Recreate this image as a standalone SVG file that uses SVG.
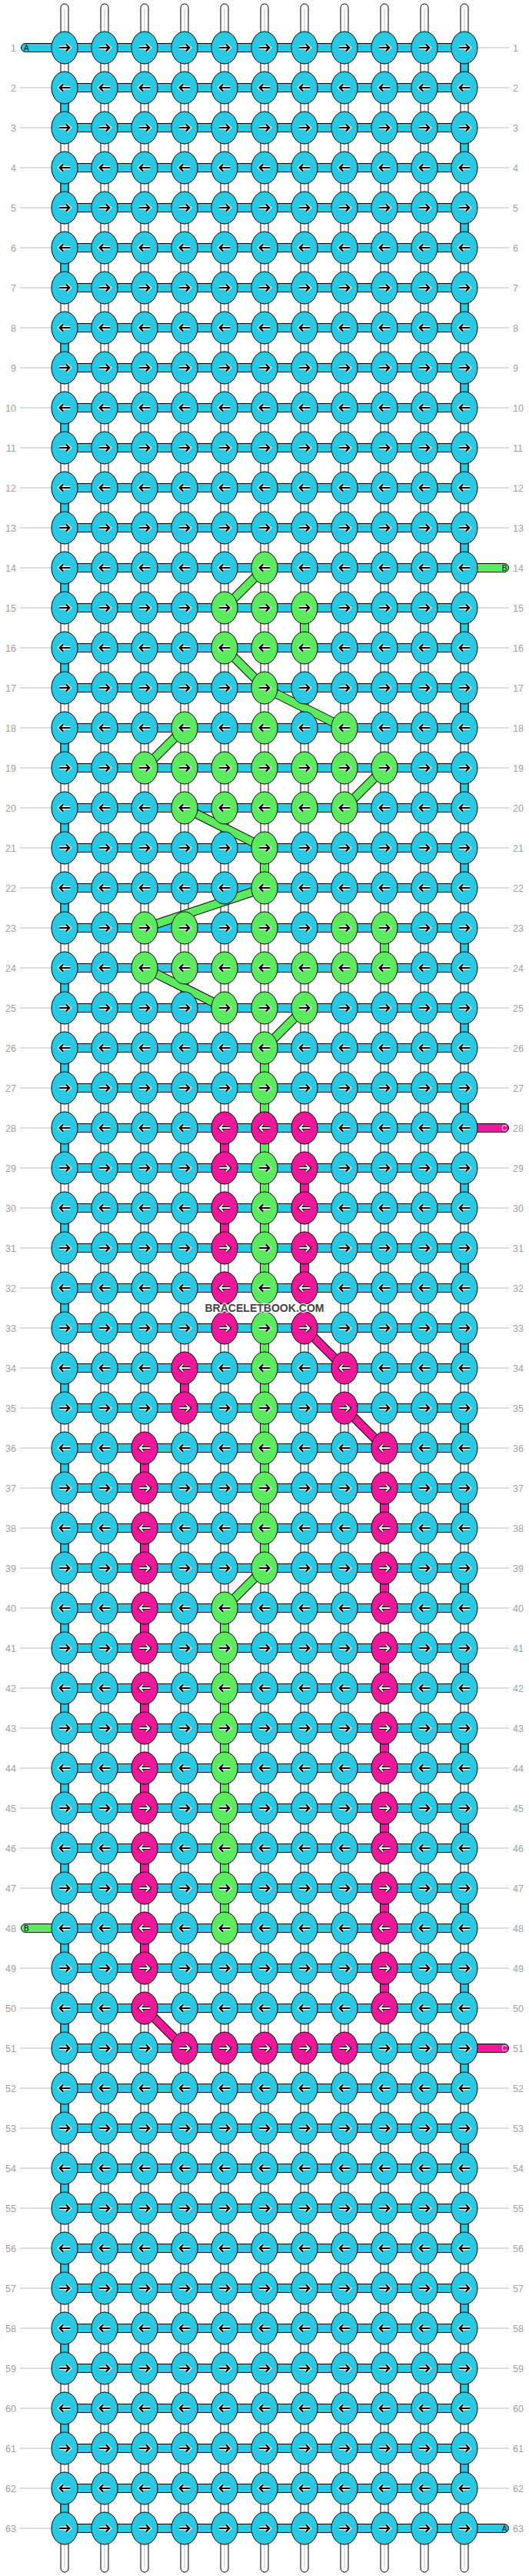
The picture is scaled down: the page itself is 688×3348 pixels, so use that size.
<svg xmlns="http://www.w3.org/2000/svg" width="688" height="3348" viewBox="0 0 688 3348">
<style>
text{font-family:"Liberation Sans",Arial,sans-serif}
.ll{font-size:12.5px;fill:#a0a0a0;text-anchor:end}
.rl{font-size:12.5px;fill:#a0a0a0}
.sl{font-size:10px;fill:#000}
.slw{font-size:10px;fill:#fff}
.wo{fill:none;stroke:#fff;stroke-width:4.6}
.bi{fill:none;stroke:#000;stroke-width:2.2}
.bo{fill:none;stroke:#000;stroke-width:4.2}
.wi{fill:none;stroke:#fff;stroke-width:2}
.c{fill:#29C8E3}
.g{fill:#5CEB5F}
.p{fill:#F1179A}
.ol{stroke:#000;stroke-width:1}
</style>
<defs>
<path id="a" d="M-7,0H6M1.8,-4.6L6.4,0L1.8,4.6"/>
<g id="cR"><ellipse rx="17" ry="21" class="c ol"/><use href="#a" class="wo"/><use href="#a" class="bi"/></g>
<g id="cL"><ellipse rx="17" ry="21" class="c ol"/><g transform="scale(-1,1)"><use href="#a" class="wo"/><use href="#a" class="bi"/></g></g>
<g id="gR"><ellipse rx="17" ry="21" class="g ol"/><use href="#a" class="wo"/><use href="#a" class="bi"/></g>
<g id="gL"><ellipse rx="17" ry="21" class="g ol"/><g transform="scale(-1,1)"><use href="#a" class="wo"/><use href="#a" class="bi"/></g></g>
<g id="pR"><ellipse rx="17" ry="21" class="p ol"/><use href="#a" class="bo"/><use href="#a" class="wi"/></g>
<g id="pL"><ellipse rx="17" ry="21" class="p ol"/><g transform="scale(-1,1)"><use href="#a" class="bo"/><use href="#a" class="wi"/></g></g>
<g id="greenLinks">
<line x1="344" y1="738" x2="292" y2="790"/>
<line x1="396" y1="790" x2="396" y2="842"/>
<line x1="292" y1="842" x2="344" y2="894"/>
<line x1="344" y1="894" x2="448" y2="946"/>
<line x1="240" y1="946" x2="188" y2="998"/>
<line x1="500" y1="998" x2="448" y2="1050"/>
<line x1="240" y1="1050" x2="344" y2="1102"/>
<line x1="344" y1="1102" x2="344" y2="1154"/>
<line x1="344" y1="1154" x2="188" y2="1206"/>
<line x1="500" y1="1206" x2="500" y2="1258"/>
<line x1="188" y1="1258" x2="292" y2="1310"/>
<line x1="396" y1="1310" x2="344" y2="1362"/>
<line x1="344" y1="1362" x2="344" y2="2038"/>
<line x1="344" y1="2038" x2="292" y2="2090"/>
<line x1="292" y1="2090" x2="292" y2="2506"/>
</g>
<g id="pinkLinks">
<line x1="292" y1="1466" x2="292" y2="1726" stroke-dasharray="52 52"/>
<line x1="396" y1="1518" x2="396" y2="1674" stroke-dasharray="52 52"/>
<line x1="396" y1="1726" x2="448" y2="1778"/>
<line x1="240" y1="1778" x2="240" y2="1830"/>
<line x1="448" y1="1830" x2="500" y2="1882"/>
<line x1="188" y1="1882" x2="188" y2="2558" stroke-dasharray="52 52"/>
<line x1="500" y1="1934" x2="500" y2="2610" stroke-dasharray="52 52"/>
<line x1="188" y1="2610" x2="240" y2="2662"/>
</g>
</defs>
<rect width="688" height="3348" fill="#fff"/>
<g id="threads" fill="#fff" stroke="#000" stroke-width="1">
<rect x="79" y="5" width="10" height="3338" rx="5"/>
<rect x="131" y="5" width="10" height="3338" rx="5"/>
<rect x="183" y="5" width="10" height="3338" rx="5"/>
<rect x="235" y="5" width="10" height="3338" rx="5"/>
<rect x="287" y="5" width="10" height="3338" rx="5"/>
<rect x="339" y="5" width="10" height="3338" rx="5"/>
<rect x="391" y="5" width="10" height="3338" rx="5"/>
<rect x="443" y="5" width="10" height="3338" rx="5"/>
<rect x="495" y="5" width="10" height="3338" rx="5"/>
<rect x="547" y="5" width="10" height="3338" rx="5"/>
<rect x="599" y="5" width="10" height="3338" rx="5"/>
<path stroke="#c4c4c4" d="M84,11V3337M136,11V3337M188,11V3337M240,11V3337M292,11V3337M344,11V3337M396,11V3337M448,11V3337M500,11V3337M552,11V3337M604,11V3337"/>
</g>
<g id="connectors">
<path class="c ol" d="M84,56.5h520v11H84zM84,108.5h520v11H84zM84,160.5h520v11H84zM84,212.5h520v11H84zM84,264.5h520v11H84zM84,316.5h520v11H84zM84,368.5h520v11H84zM84,420.5h520v11H84zM84,472.5h520v11H84zM84,524.5h520v11H84zM84,576.5h520v11H84zM84,628.5h520v11H84zM84,680.5h520v11H84zM84,732.5h520v11H84zM84,784.5h520v11H84zM84,836.5h520v11H84zM84,888.5h520v11H84zM84,940.5h520v11H84zM84,992.5h520v11H84zM84,1044.5h520v11H84zM84,1096.5h520v11H84zM84,1148.5h520v11H84zM84,1200.5h520v11H84zM84,1252.5h520v11H84zM84,1304.5h520v11H84zM84,1356.5h520v11H84zM84,1408.5h520v11H84zM84,1460.5h520v11H84zM84,1512.5h520v11H84zM84,1564.5h520v11H84zM84,1616.5h520v11H84zM84,1668.5h520v11H84zM84,1720.5h520v11H84zM84,1772.5h520v11H84zM84,1824.5h520v11H84zM84,1876.5h520v11H84zM84,1928.5h520v11H84zM84,1980.5h520v11H84zM84,2032.5h520v11H84zM84,2084.5h520v11H84zM84,2136.5h520v11H84zM84,2188.5h520v11H84zM84,2240.5h520v11H84zM84,2292.5h520v11H84zM84,2344.5h520v11H84zM84,2396.5h520v11H84zM84,2448.5h520v11H84zM84,2500.5h520v11H84zM84,2552.5h520v11H84zM84,2604.5h520v11H84zM84,2656.5h520v11H84zM84,2708.5h520v11H84zM84,2760.5h520v11H84zM84,2812.5h520v11H84zM84,2864.5h520v11H84zM84,2916.5h520v11H84zM84,2968.5h520v11H84zM84,3020.5h520v11H84zM84,3072.5h520v11H84zM84,3124.5h520v11H84zM84,3176.5h520v11H84zM84,3228.5h520v11H84zM84,3280.5h520v11H84z"/>
<line x1="604" y1="62" x2="604" y2="3286" stroke="#000" stroke-width="11" stroke-dasharray="52 52"/>
<line x1="604" y1="62" x2="604" y2="3286" stroke="#29C8E3" stroke-width="9" stroke-dasharray="52 52"/>
<line x1="84" y1="114" x2="84" y2="3286" stroke="#000" stroke-width="11" stroke-dasharray="52 52"/>
<line x1="84" y1="114" x2="84" y2="3286" stroke="#29C8E3" stroke-width="9" stroke-dasharray="52 52"/>
<use href="#greenLinks" stroke="#000" stroke-width="12"/>
<use href="#greenLinks" stroke="#5CEB5F" stroke-width="10"/>
<use href="#pinkLinks" stroke="#000" stroke-width="12"/>
<use href="#pinkLinks" stroke="#F1179A" stroke-width="10"/>
<rect x="266" y="1695.5" width="156" height="9.5" fill="#fff"/>
</g>
<g id="rowlines" stroke="#bdbdbd" stroke-width="1">
<path d="M26,114H67M26,166H67M26,218H67M26,270H67M26,322H67M26,374H67M26,426H67M26,478H67M26,530H67M26,582H67M26,634H67M26,686H67M26,738H67M26,790H67M26,842H67M26,894H67M26,946H67M26,998H67M26,1050H67M26,1102H67M26,1154H67M26,1206H67M26,1258H67M26,1310H67M26,1362H67M26,1414H67M26,1466H67M26,1518H67M26,1570H67M26,1622H67M26,1674H67M26,1726H67M26,1778H67M26,1830H67M26,1882H67M26,1934H67M26,1986H67M26,2038H67M26,2090H67M26,2142H67M26,2194H67M26,2246H67M26,2298H67M26,2350H67M26,2402H67M26,2454H67M26,2558H67M26,2610H67M26,2662H67M26,2714H67M26,2766H67M26,2818H67M26,2870H67M26,2922H67M26,2974H67M26,3026H67M26,3078H67M26,3130H67M26,3182H67M26,3234H67M26,3286H67"/>
<path d="M621,62H662M621,114H662M621,166H662M621,218H662M621,270H662M621,322H662M621,374H662M621,426H662M621,478H662M621,530H662M621,582H662M621,634H662M621,686H662M621,790H662M621,842H662M621,894H662M621,946H662M621,998H662M621,1050H662M621,1102H662M621,1154H662M621,1206H662M621,1258H662M621,1310H662M621,1362H662M621,1414H662M621,1518H662M621,1570H662M621,1622H662M621,1674H662M621,1726H662M621,1778H662M621,1830H662M621,1882H662M621,1934H662M621,1986H662M621,2038H662M621,2090H662M621,2142H662M621,2194H662M621,2246H662M621,2298H662M621,2350H662M621,2402H662M621,2454H662M621,2506H662M621,2558H662M621,2610H662M621,2714H662M621,2766H662M621,2818H662M621,2870H662M621,2922H662M621,2974H662M621,3026H662M621,3078H662M621,3130H662M621,3182H662M621,3234H662"/>
</g>
<g id="rowlabels">
<text class="ll" x="21" y="66.5">1</text><text class="ll" x="21" y="118.5">2</text><text class="ll" x="21" y="170.5">3</text><text class="ll" x="21" y="222.5">4</text><text class="ll" x="21" y="274.5">5</text><text class="ll" x="21" y="326.5">6</text><text class="ll" x="21" y="378.5">7</text><text class="ll" x="21" y="430.5">8</text><text class="ll" x="21" y="482.5">9</text><text class="ll" x="21" y="534.5">10</text><text class="ll" x="21" y="586.5">11</text><text class="ll" x="21" y="638.5">12</text><text class="ll" x="21" y="690.5">13</text><text class="ll" x="21" y="742.5">14</text><text class="ll" x="21" y="794.5">15</text><text class="ll" x="21" y="846.5">16</text><text class="ll" x="21" y="898.5">17</text><text class="ll" x="21" y="950.5">18</text><text class="ll" x="21" y="1002.5">19</text><text class="ll" x="21" y="1054.5">20</text><text class="ll" x="21" y="1106.5">21</text><text class="ll" x="21" y="1158.5">22</text><text class="ll" x="21" y="1210.5">23</text><text class="ll" x="21" y="1262.5">24</text><text class="ll" x="21" y="1314.5">25</text><text class="ll" x="21" y="1366.5">26</text><text class="ll" x="21" y="1418.5">27</text><text class="ll" x="21" y="1470.5">28</text><text class="ll" x="21" y="1522.5">29</text><text class="ll" x="21" y="1574.5">30</text><text class="ll" x="21" y="1626.5">31</text><text class="ll" x="21" y="1678.5">32</text><text class="ll" x="21" y="1730.5">33</text><text class="ll" x="21" y="1782.5">34</text><text class="ll" x="21" y="1834.5">35</text><text class="ll" x="21" y="1886.5">36</text><text class="ll" x="21" y="1938.5">37</text><text class="ll" x="21" y="1990.5">38</text><text class="ll" x="21" y="2042.5">39</text><text class="ll" x="21" y="2094.5">40</text><text class="ll" x="21" y="2146.5">41</text><text class="ll" x="21" y="2198.5">42</text><text class="ll" x="21" y="2250.5">43</text><text class="ll" x="21" y="2302.5">44</text><text class="ll" x="21" y="2354.5">45</text><text class="ll" x="21" y="2406.5">46</text><text class="ll" x="21" y="2458.5">47</text><text class="ll" x="21" y="2510.5">48</text><text class="ll" x="21" y="2562.5">49</text><text class="ll" x="21" y="2614.5">50</text><text class="ll" x="21" y="2666.5">51</text><text class="ll" x="21" y="2718.5">52</text><text class="ll" x="21" y="2770.5">53</text><text class="ll" x="21" y="2822.5">54</text><text class="ll" x="21" y="2874.5">55</text><text class="ll" x="21" y="2926.5">56</text><text class="ll" x="21" y="2978.5">57</text><text class="ll" x="21" y="3030.5">58</text><text class="ll" x="21" y="3082.5">59</text><text class="ll" x="21" y="3134.5">60</text><text class="ll" x="21" y="3186.5">61</text><text class="ll" x="21" y="3238.5">62</text><text class="ll" x="21" y="3290.5">63</text>
<text class="rl" x="667" y="66.5">1</text><text class="rl" x="667" y="118.5">2</text><text class="rl" x="667" y="170.5">3</text><text class="rl" x="667" y="222.5">4</text><text class="rl" x="667" y="274.5">5</text><text class="rl" x="667" y="326.5">6</text><text class="rl" x="667" y="378.5">7</text><text class="rl" x="667" y="430.5">8</text><text class="rl" x="667" y="482.5">9</text><text class="rl" x="667" y="534.5">10</text><text class="rl" x="667" y="586.5">11</text><text class="rl" x="667" y="638.5">12</text><text class="rl" x="667" y="690.5">13</text><text class="rl" x="667" y="742.5">14</text><text class="rl" x="667" y="794.5">15</text><text class="rl" x="667" y="846.5">16</text><text class="rl" x="667" y="898.5">17</text><text class="rl" x="667" y="950.5">18</text><text class="rl" x="667" y="1002.5">19</text><text class="rl" x="667" y="1054.5">20</text><text class="rl" x="667" y="1106.5">21</text><text class="rl" x="667" y="1158.5">22</text><text class="rl" x="667" y="1210.5">23</text><text class="rl" x="667" y="1262.5">24</text><text class="rl" x="667" y="1314.5">25</text><text class="rl" x="667" y="1366.5">26</text><text class="rl" x="667" y="1418.5">27</text><text class="rl" x="667" y="1470.5">28</text><text class="rl" x="667" y="1522.5">29</text><text class="rl" x="667" y="1574.5">30</text><text class="rl" x="667" y="1626.5">31</text><text class="rl" x="667" y="1678.5">32</text><text class="rl" x="667" y="1730.5">33</text><text class="rl" x="667" y="1782.5">34</text><text class="rl" x="667" y="1834.5">35</text><text class="rl" x="667" y="1886.5">36</text><text class="rl" x="667" y="1938.5">37</text><text class="rl" x="667" y="1990.5">38</text><text class="rl" x="667" y="2042.5">39</text><text class="rl" x="667" y="2094.5">40</text><text class="rl" x="667" y="2146.5">41</text><text class="rl" x="667" y="2198.5">42</text><text class="rl" x="667" y="2250.5">43</text><text class="rl" x="667" y="2302.5">44</text><text class="rl" x="667" y="2354.5">45</text><text class="rl" x="667" y="2406.5">46</text><text class="rl" x="667" y="2458.5">47</text><text class="rl" x="667" y="2510.5">48</text><text class="rl" x="667" y="2562.5">49</text><text class="rl" x="667" y="2614.5">50</text><text class="rl" x="667" y="2666.5">51</text><text class="rl" x="667" y="2718.5">52</text><text class="rl" x="667" y="2770.5">53</text><text class="rl" x="667" y="2822.5">54</text><text class="rl" x="667" y="2874.5">55</text><text class="rl" x="667" y="2926.5">56</text><text class="rl" x="667" y="2978.5">57</text><text class="rl" x="667" y="3030.5">58</text><text class="rl" x="667" y="3082.5">59</text><text class="rl" x="667" y="3134.5">60</text><text class="rl" x="667" y="3186.5">61</text><text class="rl" x="667" y="3238.5">62</text><text class="rl" x="667" y="3290.5">63</text>
</g>
<g id="stubs" stroke="#000" stroke-width="1">
<g id="stubA1"><path class="c" d="M84,56.5H33a5.5,5.5 0 0 0 0,11H84z"/><text class="sl" x="31" y="65.5" stroke="none">A</text></g>
<g id="stubB14"><path class="g" d="M604,732.5H656a5.5,5.5 0 0 1 0,11H604z"/><text class="sl" x="659.5" y="741.5" stroke="none" text-anchor="end">B</text></g>
<g id="stubC28"><path class="p" d="M604,1460.5H656a5.5,5.5 0 0 1 0,11H604z"/><text class="slw" x="659.5" y="1469.5" stroke="none" text-anchor="end">C</text></g>
<g id="stubB48"><path class="g" d="M84,2500.5H33a5.5,5.5 0 0 0 0,11H84z"/><text class="sl" x="31" y="2509.5" stroke="none">B</text></g>
<g id="stubC51"><path class="p" d="M604,2656.5H656a5.5,5.5 0 0 1 0,11H604z"/><text class="slw" x="659.5" y="2665.5" stroke="none" text-anchor="end">C</text></g>
<g id="stubA63"><path class="c" d="M604,3280.5H656a5.5,5.5 0 0 1 0,11H604z"/><text class="sl" x="659.5" y="3289.5" stroke="none" text-anchor="end">A</text></g>
</g>
<g id="nodes">
<g id="r1" transform="translate(0,62)"><g id="n1-1"><use href="#cR" x="84"/></g><g id="n1-2"><use href="#cR" x="136"/></g><g id="n1-3"><use href="#cR" x="188"/></g><g id="n1-4"><use href="#cR" x="240"/></g><g id="n1-5"><use href="#cR" x="292"/></g><g id="n1-6"><use href="#cR" x="344"/></g><g id="n1-7"><use href="#cR" x="396"/></g><g id="n1-8"><use href="#cR" x="448"/></g><g id="n1-9"><use href="#cR" x="500"/></g><g id="n1-10"><use href="#cR" x="552"/></g><g id="n1-11"><use href="#cR" x="604"/></g></g>
<g id="r2" transform="translate(0,114)"><g id="n2-1"><use href="#cL" x="84"/></g><g id="n2-2"><use href="#cL" x="136"/></g><g id="n2-3"><use href="#cL" x="188"/></g><g id="n2-4"><use href="#cL" x="240"/></g><g id="n2-5"><use href="#cL" x="292"/></g><g id="n2-6"><use href="#cL" x="344"/></g><g id="n2-7"><use href="#cL" x="396"/></g><g id="n2-8"><use href="#cL" x="448"/></g><g id="n2-9"><use href="#cL" x="500"/></g><g id="n2-10"><use href="#cL" x="552"/></g><g id="n2-11"><use href="#cL" x="604"/></g></g>
<g id="r3" transform="translate(0,166)"><g id="n3-1"><use href="#cR" x="84"/></g><g id="n3-2"><use href="#cR" x="136"/></g><g id="n3-3"><use href="#cR" x="188"/></g><g id="n3-4"><use href="#cR" x="240"/></g><g id="n3-5"><use href="#cR" x="292"/></g><g id="n3-6"><use href="#cR" x="344"/></g><g id="n3-7"><use href="#cR" x="396"/></g><g id="n3-8"><use href="#cR" x="448"/></g><g id="n3-9"><use href="#cR" x="500"/></g><g id="n3-10"><use href="#cR" x="552"/></g><g id="n3-11"><use href="#cR" x="604"/></g></g>
<g id="r4" transform="translate(0,218)"><g id="n4-1"><use href="#cL" x="84"/></g><g id="n4-2"><use href="#cL" x="136"/></g><g id="n4-3"><use href="#cL" x="188"/></g><g id="n4-4"><use href="#cL" x="240"/></g><g id="n4-5"><use href="#cL" x="292"/></g><g id="n4-6"><use href="#cL" x="344"/></g><g id="n4-7"><use href="#cL" x="396"/></g><g id="n4-8"><use href="#cL" x="448"/></g><g id="n4-9"><use href="#cL" x="500"/></g><g id="n4-10"><use href="#cL" x="552"/></g><g id="n4-11"><use href="#cL" x="604"/></g></g>
<g id="r5" transform="translate(0,270)"><g id="n5-1"><use href="#cR" x="84"/></g><g id="n5-2"><use href="#cR" x="136"/></g><g id="n5-3"><use href="#cR" x="188"/></g><g id="n5-4"><use href="#cR" x="240"/></g><g id="n5-5"><use href="#cR" x="292"/></g><g id="n5-6"><use href="#cR" x="344"/></g><g id="n5-7"><use href="#cR" x="396"/></g><g id="n5-8"><use href="#cR" x="448"/></g><g id="n5-9"><use href="#cR" x="500"/></g><g id="n5-10"><use href="#cR" x="552"/></g><g id="n5-11"><use href="#cR" x="604"/></g></g>
<g id="r6" transform="translate(0,322)"><g id="n6-1"><use href="#cL" x="84"/></g><g id="n6-2"><use href="#cL" x="136"/></g><g id="n6-3"><use href="#cL" x="188"/></g><g id="n6-4"><use href="#cL" x="240"/></g><g id="n6-5"><use href="#cL" x="292"/></g><g id="n6-6"><use href="#cL" x="344"/></g><g id="n6-7"><use href="#cL" x="396"/></g><g id="n6-8"><use href="#cL" x="448"/></g><g id="n6-9"><use href="#cL" x="500"/></g><g id="n6-10"><use href="#cL" x="552"/></g><g id="n6-11"><use href="#cL" x="604"/></g></g>
<g id="r7" transform="translate(0,374)"><g id="n7-1"><use href="#cR" x="84"/></g><g id="n7-2"><use href="#cR" x="136"/></g><g id="n7-3"><use href="#cR" x="188"/></g><g id="n7-4"><use href="#cR" x="240"/></g><g id="n7-5"><use href="#cR" x="292"/></g><g id="n7-6"><use href="#cR" x="344"/></g><g id="n7-7"><use href="#cR" x="396"/></g><g id="n7-8"><use href="#cR" x="448"/></g><g id="n7-9"><use href="#cR" x="500"/></g><g id="n7-10"><use href="#cR" x="552"/></g><g id="n7-11"><use href="#cR" x="604"/></g></g>
<g id="r8" transform="translate(0,426)"><g id="n8-1"><use href="#cL" x="84"/></g><g id="n8-2"><use href="#cL" x="136"/></g><g id="n8-3"><use href="#cL" x="188"/></g><g id="n8-4"><use href="#cL" x="240"/></g><g id="n8-5"><use href="#cL" x="292"/></g><g id="n8-6"><use href="#cL" x="344"/></g><g id="n8-7"><use href="#cL" x="396"/></g><g id="n8-8"><use href="#cL" x="448"/></g><g id="n8-9"><use href="#cL" x="500"/></g><g id="n8-10"><use href="#cL" x="552"/></g><g id="n8-11"><use href="#cL" x="604"/></g></g>
<g id="r9" transform="translate(0,478)"><g id="n9-1"><use href="#cR" x="84"/></g><g id="n9-2"><use href="#cR" x="136"/></g><g id="n9-3"><use href="#cR" x="188"/></g><g id="n9-4"><use href="#cR" x="240"/></g><g id="n9-5"><use href="#cR" x="292"/></g><g id="n9-6"><use href="#cR" x="344"/></g><g id="n9-7"><use href="#cR" x="396"/></g><g id="n9-8"><use href="#cR" x="448"/></g><g id="n9-9"><use href="#cR" x="500"/></g><g id="n9-10"><use href="#cR" x="552"/></g><g id="n9-11"><use href="#cR" x="604"/></g></g>
<g id="r10" transform="translate(0,530)"><g id="n10-1"><use href="#cL" x="84"/></g><g id="n10-2"><use href="#cL" x="136"/></g><g id="n10-3"><use href="#cL" x="188"/></g><g id="n10-4"><use href="#cL" x="240"/></g><g id="n10-5"><use href="#cL" x="292"/></g><g id="n10-6"><use href="#cL" x="344"/></g><g id="n10-7"><use href="#cL" x="396"/></g><g id="n10-8"><use href="#cL" x="448"/></g><g id="n10-9"><use href="#cL" x="500"/></g><g id="n10-10"><use href="#cL" x="552"/></g><g id="n10-11"><use href="#cL" x="604"/></g></g>
<g id="r11" transform="translate(0,582)"><g id="n11-1"><use href="#cR" x="84"/></g><g id="n11-2"><use href="#cR" x="136"/></g><g id="n11-3"><use href="#cR" x="188"/></g><g id="n11-4"><use href="#cR" x="240"/></g><g id="n11-5"><use href="#cR" x="292"/></g><g id="n11-6"><use href="#cR" x="344"/></g><g id="n11-7"><use href="#cR" x="396"/></g><g id="n11-8"><use href="#cR" x="448"/></g><g id="n11-9"><use href="#cR" x="500"/></g><g id="n11-10"><use href="#cR" x="552"/></g><g id="n11-11"><use href="#cR" x="604"/></g></g>
<g id="r12" transform="translate(0,634)"><g id="n12-1"><use href="#cL" x="84"/></g><g id="n12-2"><use href="#cL" x="136"/></g><g id="n12-3"><use href="#cL" x="188"/></g><g id="n12-4"><use href="#cL" x="240"/></g><g id="n12-5"><use href="#cL" x="292"/></g><g id="n12-6"><use href="#cL" x="344"/></g><g id="n12-7"><use href="#cL" x="396"/></g><g id="n12-8"><use href="#cL" x="448"/></g><g id="n12-9"><use href="#cL" x="500"/></g><g id="n12-10"><use href="#cL" x="552"/></g><g id="n12-11"><use href="#cL" x="604"/></g></g>
<g id="r13" transform="translate(0,686)"><g id="n13-1"><use href="#cR" x="84"/></g><g id="n13-2"><use href="#cR" x="136"/></g><g id="n13-3"><use href="#cR" x="188"/></g><g id="n13-4"><use href="#cR" x="240"/></g><g id="n13-5"><use href="#cR" x="292"/></g><g id="n13-6"><use href="#cR" x="344"/></g><g id="n13-7"><use href="#cR" x="396"/></g><g id="n13-8"><use href="#cR" x="448"/></g><g id="n13-9"><use href="#cR" x="500"/></g><g id="n13-10"><use href="#cR" x="552"/></g><g id="n13-11"><use href="#cR" x="604"/></g></g>
<g id="r14" transform="translate(0,738)"><g id="n14-1"><use href="#cL" x="84"/></g><g id="n14-2"><use href="#cL" x="136"/></g><g id="n14-3"><use href="#cL" x="188"/></g><g id="n14-4"><use href="#cL" x="240"/></g><g id="n14-5"><use href="#cL" x="292"/></g><g id="n14-6"><use href="#gL" x="344"/></g><g id="n14-7"><use href="#cL" x="396"/></g><g id="n14-8"><use href="#cL" x="448"/></g><g id="n14-9"><use href="#cL" x="500"/></g><g id="n14-10"><use href="#cL" x="552"/></g><g id="n14-11"><use href="#cL" x="604"/></g></g>
<g id="r15" transform="translate(0,790)"><g id="n15-1"><use href="#cR" x="84"/></g><g id="n15-2"><use href="#cR" x="136"/></g><g id="n15-3"><use href="#cR" x="188"/></g><g id="n15-4"><use href="#cR" x="240"/></g><g id="n15-5"><use href="#gR" x="292"/></g><g id="n15-6"><use href="#gR" x="344"/></g><g id="n15-7"><use href="#gR" x="396"/></g><g id="n15-8"><use href="#cR" x="448"/></g><g id="n15-9"><use href="#cR" x="500"/></g><g id="n15-10"><use href="#cR" x="552"/></g><g id="n15-11"><use href="#cR" x="604"/></g></g>
<g id="r16" transform="translate(0,842)"><g id="n16-1"><use href="#cL" x="84"/></g><g id="n16-2"><use href="#cL" x="136"/></g><g id="n16-3"><use href="#cL" x="188"/></g><g id="n16-4"><use href="#cL" x="240"/></g><g id="n16-5"><use href="#gL" x="292"/></g><g id="n16-6"><use href="#gL" x="344"/></g><g id="n16-7"><use href="#gL" x="396"/></g><g id="n16-8"><use href="#cL" x="448"/></g><g id="n16-9"><use href="#cL" x="500"/></g><g id="n16-10"><use href="#cL" x="552"/></g><g id="n16-11"><use href="#cL" x="604"/></g></g>
<g id="r17" transform="translate(0,894)"><g id="n17-1"><use href="#cR" x="84"/></g><g id="n17-2"><use href="#cR" x="136"/></g><g id="n17-3"><use href="#cR" x="188"/></g><g id="n17-4"><use href="#cR" x="240"/></g><g id="n17-5"><use href="#cR" x="292"/></g><g id="n17-6"><use href="#gR" x="344"/></g><g id="n17-7"><use href="#cR" x="396"/></g><g id="n17-8"><use href="#cR" x="448"/></g><g id="n17-9"><use href="#cR" x="500"/></g><g id="n17-10"><use href="#cR" x="552"/></g><g id="n17-11"><use href="#cR" x="604"/></g></g>
<g id="r18" transform="translate(0,946)"><g id="n18-1"><use href="#cL" x="84"/></g><g id="n18-2"><use href="#cL" x="136"/></g><g id="n18-3"><use href="#cL" x="188"/></g><g id="n18-4"><use href="#gL" x="240"/></g><g id="n18-5"><use href="#cL" x="292"/></g><g id="n18-6"><use href="#gL" x="344"/></g><g id="n18-7"><use href="#cL" x="396"/></g><g id="n18-8"><use href="#gL" x="448"/></g><g id="n18-9"><use href="#cL" x="500"/></g><g id="n18-10"><use href="#cL" x="552"/></g><g id="n18-11"><use href="#cL" x="604"/></g></g>
<g id="r19" transform="translate(0,998)"><g id="n19-1"><use href="#cR" x="84"/></g><g id="n19-2"><use href="#cR" x="136"/></g><g id="n19-3"><use href="#gR" x="188"/></g><g id="n19-4"><use href="#gR" x="240"/></g><g id="n19-5"><use href="#gR" x="292"/></g><g id="n19-6"><use href="#gR" x="344"/></g><g id="n19-7"><use href="#gR" x="396"/></g><g id="n19-8"><use href="#gR" x="448"/></g><g id="n19-9"><use href="#gR" x="500"/></g><g id="n19-10"><use href="#cR" x="552"/></g><g id="n19-11"><use href="#cR" x="604"/></g></g>
<g id="r20" transform="translate(0,1050)"><g id="n20-1"><use href="#cL" x="84"/></g><g id="n20-2"><use href="#cL" x="136"/></g><g id="n20-3"><use href="#cL" x="188"/></g><g id="n20-4"><use href="#gL" x="240"/></g><g id="n20-5"><use href="#gL" x="292"/></g><g id="n20-6"><use href="#gL" x="344"/></g><g id="n20-7"><use href="#gL" x="396"/></g><g id="n20-8"><use href="#gL" x="448"/></g><g id="n20-9"><use href="#cL" x="500"/></g><g id="n20-10"><use href="#cL" x="552"/></g><g id="n20-11"><use href="#cL" x="604"/></g></g>
<g id="r21" transform="translate(0,1102)"><g id="n21-1"><use href="#cR" x="84"/></g><g id="n21-2"><use href="#cR" x="136"/></g><g id="n21-3"><use href="#cR" x="188"/></g><g id="n21-4"><use href="#cR" x="240"/></g><g id="n21-5"><use href="#cR" x="292"/></g><g id="n21-6"><use href="#gR" x="344"/></g><g id="n21-7"><use href="#cR" x="396"/></g><g id="n21-8"><use href="#cR" x="448"/></g><g id="n21-9"><use href="#cR" x="500"/></g><g id="n21-10"><use href="#cR" x="552"/></g><g id="n21-11"><use href="#cR" x="604"/></g></g>
<g id="r22" transform="translate(0,1154)"><g id="n22-1"><use href="#cL" x="84"/></g><g id="n22-2"><use href="#cL" x="136"/></g><g id="n22-3"><use href="#cL" x="188"/></g><g id="n22-4"><use href="#cL" x="240"/></g><g id="n22-5"><use href="#cL" x="292"/></g><g id="n22-6"><use href="#gL" x="344"/></g><g id="n22-7"><use href="#cL" x="396"/></g><g id="n22-8"><use href="#cL" x="448"/></g><g id="n22-9"><use href="#cL" x="500"/></g><g id="n22-10"><use href="#cL" x="552"/></g><g id="n22-11"><use href="#cL" x="604"/></g></g>
<g id="r23" transform="translate(0,1206)"><g id="n23-1"><use href="#cR" x="84"/></g><g id="n23-2"><use href="#cR" x="136"/></g><g id="n23-3"><use href="#gR" x="188"/></g><g id="n23-4"><use href="#gR" x="240"/></g><g id="n23-5"><use href="#cR" x="292"/></g><g id="n23-6"><use href="#gR" x="344"/></g><g id="n23-7"><use href="#cR" x="396"/></g><g id="n23-8"><use href="#gR" x="448"/></g><g id="n23-9"><use href="#gR" x="500"/></g><g id="n23-10"><use href="#cR" x="552"/></g><g id="n23-11"><use href="#cR" x="604"/></g></g>
<g id="r24" transform="translate(0,1258)"><g id="n24-1"><use href="#cL" x="84"/></g><g id="n24-2"><use href="#cL" x="136"/></g><g id="n24-3"><use href="#gL" x="188"/></g><g id="n24-4"><use href="#gL" x="240"/></g><g id="n24-5"><use href="#gL" x="292"/></g><g id="n24-6"><use href="#gL" x="344"/></g><g id="n24-7"><use href="#gL" x="396"/></g><g id="n24-8"><use href="#gL" x="448"/></g><g id="n24-9"><use href="#gL" x="500"/></g><g id="n24-10"><use href="#cL" x="552"/></g><g id="n24-11"><use href="#cL" x="604"/></g></g>
<g id="r25" transform="translate(0,1310)"><g id="n25-1"><use href="#cR" x="84"/></g><g id="n25-2"><use href="#cR" x="136"/></g><g id="n25-3"><use href="#cR" x="188"/></g><g id="n25-4"><use href="#cR" x="240"/></g><g id="n25-5"><use href="#gR" x="292"/></g><g id="n25-6"><use href="#gR" x="344"/></g><g id="n25-7"><use href="#gR" x="396"/></g><g id="n25-8"><use href="#cR" x="448"/></g><g id="n25-9"><use href="#cR" x="500"/></g><g id="n25-10"><use href="#cR" x="552"/></g><g id="n25-11"><use href="#cR" x="604"/></g></g>
<g id="r26" transform="translate(0,1362)"><g id="n26-1"><use href="#cL" x="84"/></g><g id="n26-2"><use href="#cL" x="136"/></g><g id="n26-3"><use href="#cL" x="188"/></g><g id="n26-4"><use href="#cL" x="240"/></g><g id="n26-5"><use href="#cL" x="292"/></g><g id="n26-6"><use href="#gL" x="344"/></g><g id="n26-7"><use href="#cL" x="396"/></g><g id="n26-8"><use href="#cL" x="448"/></g><g id="n26-9"><use href="#cL" x="500"/></g><g id="n26-10"><use href="#cL" x="552"/></g><g id="n26-11"><use href="#cL" x="604"/></g></g>
<g id="r27" transform="translate(0,1414)"><g id="n27-1"><use href="#cR" x="84"/></g><g id="n27-2"><use href="#cR" x="136"/></g><g id="n27-3"><use href="#cR" x="188"/></g><g id="n27-4"><use href="#cR" x="240"/></g><g id="n27-5"><use href="#cR" x="292"/></g><g id="n27-6"><use href="#gR" x="344"/></g><g id="n27-7"><use href="#cR" x="396"/></g><g id="n27-8"><use href="#cR" x="448"/></g><g id="n27-9"><use href="#cR" x="500"/></g><g id="n27-10"><use href="#cR" x="552"/></g><g id="n27-11"><use href="#cR" x="604"/></g></g>
<g id="r28" transform="translate(0,1466)"><g id="n28-1"><use href="#cL" x="84"/></g><g id="n28-2"><use href="#cL" x="136"/></g><g id="n28-3"><use href="#cL" x="188"/></g><g id="n28-4"><use href="#cL" x="240"/></g><g id="n28-5"><use href="#pL" x="292"/></g><g id="n28-6"><use href="#pL" x="344"/></g><g id="n28-7"><use href="#pL" x="396"/></g><g id="n28-8"><use href="#cL" x="448"/></g><g id="n28-9"><use href="#cL" x="500"/></g><g id="n28-10"><use href="#cL" x="552"/></g><g id="n28-11"><use href="#cL" x="604"/></g></g>
<g id="r29" transform="translate(0,1518)"><g id="n29-1"><use href="#cR" x="84"/></g><g id="n29-2"><use href="#cR" x="136"/></g><g id="n29-3"><use href="#cR" x="188"/></g><g id="n29-4"><use href="#cR" x="240"/></g><g id="n29-5"><use href="#pR" x="292"/></g><g id="n29-6"><use href="#gR" x="344"/></g><g id="n29-7"><use href="#pR" x="396"/></g><g id="n29-8"><use href="#cR" x="448"/></g><g id="n29-9"><use href="#cR" x="500"/></g><g id="n29-10"><use href="#cR" x="552"/></g><g id="n29-11"><use href="#cR" x="604"/></g></g>
<g id="r30" transform="translate(0,1570)"><g id="n30-1"><use href="#cL" x="84"/></g><g id="n30-2"><use href="#cL" x="136"/></g><g id="n30-3"><use href="#cL" x="188"/></g><g id="n30-4"><use href="#cL" x="240"/></g><g id="n30-5"><use href="#pL" x="292"/></g><g id="n30-6"><use href="#gL" x="344"/></g><g id="n30-7"><use href="#pL" x="396"/></g><g id="n30-8"><use href="#cL" x="448"/></g><g id="n30-9"><use href="#cL" x="500"/></g><g id="n30-10"><use href="#cL" x="552"/></g><g id="n30-11"><use href="#cL" x="604"/></g></g>
<g id="r31" transform="translate(0,1622)"><g id="n31-1"><use href="#cR" x="84"/></g><g id="n31-2"><use href="#cR" x="136"/></g><g id="n31-3"><use href="#cR" x="188"/></g><g id="n31-4"><use href="#cR" x="240"/></g><g id="n31-5"><use href="#pR" x="292"/></g><g id="n31-6"><use href="#gR" x="344"/></g><g id="n31-7"><use href="#pR" x="396"/></g><g id="n31-8"><use href="#cR" x="448"/></g><g id="n31-9"><use href="#cR" x="500"/></g><g id="n31-10"><use href="#cR" x="552"/></g><g id="n31-11"><use href="#cR" x="604"/></g></g>
<g id="r32" transform="translate(0,1674)"><g id="n32-1"><use href="#cL" x="84"/></g><g id="n32-2"><use href="#cL" x="136"/></g><g id="n32-3"><use href="#cL" x="188"/></g><g id="n32-4"><use href="#cL" x="240"/></g><g id="n32-5"><use href="#pL" x="292"/></g><g id="n32-6"><use href="#gL" x="344"/></g><g id="n32-7"><use href="#pL" x="396"/></g><g id="n32-8"><use href="#cL" x="448"/></g><g id="n32-9"><use href="#cL" x="500"/></g><g id="n32-10"><use href="#cL" x="552"/></g><g id="n32-11"><use href="#cL" x="604"/></g></g>
<g id="r33" transform="translate(0,1726)"><g id="n33-1"><use href="#cR" x="84"/></g><g id="n33-2"><use href="#cR" x="136"/></g><g id="n33-3"><use href="#cR" x="188"/></g><g id="n33-4"><use href="#cR" x="240"/></g><g id="n33-5"><use href="#pR" x="292"/></g><g id="n33-6"><use href="#gR" x="344"/></g><g id="n33-7"><use href="#pR" x="396"/></g><g id="n33-8"><use href="#cR" x="448"/></g><g id="n33-9"><use href="#cR" x="500"/></g><g id="n33-10"><use href="#cR" x="552"/></g><g id="n33-11"><use href="#cR" x="604"/></g></g>
<g id="r34" transform="translate(0,1778)"><g id="n34-1"><use href="#cL" x="84"/></g><g id="n34-2"><use href="#cL" x="136"/></g><g id="n34-3"><use href="#cL" x="188"/></g><g id="n34-4"><use href="#pL" x="240"/></g><g id="n34-5"><use href="#cL" x="292"/></g><g id="n34-6"><use href="#gL" x="344"/></g><g id="n34-7"><use href="#cL" x="396"/></g><g id="n34-8"><use href="#pL" x="448"/></g><g id="n34-9"><use href="#cL" x="500"/></g><g id="n34-10"><use href="#cL" x="552"/></g><g id="n34-11"><use href="#cL" x="604"/></g></g>
<g id="r35" transform="translate(0,1830)"><g id="n35-1"><use href="#cR" x="84"/></g><g id="n35-2"><use href="#cR" x="136"/></g><g id="n35-3"><use href="#cR" x="188"/></g><g id="n35-4"><use href="#pR" x="240"/></g><g id="n35-5"><use href="#cR" x="292"/></g><g id="n35-6"><use href="#gR" x="344"/></g><g id="n35-7"><use href="#cR" x="396"/></g><g id="n35-8"><use href="#pR" x="448"/></g><g id="n35-9"><use href="#cR" x="500"/></g><g id="n35-10"><use href="#cR" x="552"/></g><g id="n35-11"><use href="#cR" x="604"/></g></g>
<g id="r36" transform="translate(0,1882)"><g id="n36-1"><use href="#cL" x="84"/></g><g id="n36-2"><use href="#cL" x="136"/></g><g id="n36-3"><use href="#pL" x="188"/></g><g id="n36-4"><use href="#cL" x="240"/></g><g id="n36-5"><use href="#cL" x="292"/></g><g id="n36-6"><use href="#gL" x="344"/></g><g id="n36-7"><use href="#cL" x="396"/></g><g id="n36-8"><use href="#cL" x="448"/></g><g id="n36-9"><use href="#pL" x="500"/></g><g id="n36-10"><use href="#cL" x="552"/></g><g id="n36-11"><use href="#cL" x="604"/></g></g>
<g id="r37" transform="translate(0,1934)"><g id="n37-1"><use href="#cR" x="84"/></g><g id="n37-2"><use href="#cR" x="136"/></g><g id="n37-3"><use href="#pR" x="188"/></g><g id="n37-4"><use href="#cR" x="240"/></g><g id="n37-5"><use href="#cR" x="292"/></g><g id="n37-6"><use href="#gR" x="344"/></g><g id="n37-7"><use href="#cR" x="396"/></g><g id="n37-8"><use href="#cR" x="448"/></g><g id="n37-9"><use href="#pR" x="500"/></g><g id="n37-10"><use href="#cR" x="552"/></g><g id="n37-11"><use href="#cR" x="604"/></g></g>
<g id="r38" transform="translate(0,1986)"><g id="n38-1"><use href="#cL" x="84"/></g><g id="n38-2"><use href="#cL" x="136"/></g><g id="n38-3"><use href="#pL" x="188"/></g><g id="n38-4"><use href="#cL" x="240"/></g><g id="n38-5"><use href="#cL" x="292"/></g><g id="n38-6"><use href="#gL" x="344"/></g><g id="n38-7"><use href="#cL" x="396"/></g><g id="n38-8"><use href="#cL" x="448"/></g><g id="n38-9"><use href="#pL" x="500"/></g><g id="n38-10"><use href="#cL" x="552"/></g><g id="n38-11"><use href="#cL" x="604"/></g></g>
<g id="r39" transform="translate(0,2038)"><g id="n39-1"><use href="#cR" x="84"/></g><g id="n39-2"><use href="#cR" x="136"/></g><g id="n39-3"><use href="#pR" x="188"/></g><g id="n39-4"><use href="#cR" x="240"/></g><g id="n39-5"><use href="#cR" x="292"/></g><g id="n39-6"><use href="#gR" x="344"/></g><g id="n39-7"><use href="#cR" x="396"/></g><g id="n39-8"><use href="#cR" x="448"/></g><g id="n39-9"><use href="#pR" x="500"/></g><g id="n39-10"><use href="#cR" x="552"/></g><g id="n39-11"><use href="#cR" x="604"/></g></g>
<g id="r40" transform="translate(0,2090)"><g id="n40-1"><use href="#cL" x="84"/></g><g id="n40-2"><use href="#cL" x="136"/></g><g id="n40-3"><use href="#pL" x="188"/></g><g id="n40-4"><use href="#cL" x="240"/></g><g id="n40-5"><use href="#gL" x="292"/></g><g id="n40-6"><use href="#cL" x="344"/></g><g id="n40-7"><use href="#cL" x="396"/></g><g id="n40-8"><use href="#cL" x="448"/></g><g id="n40-9"><use href="#pL" x="500"/></g><g id="n40-10"><use href="#cL" x="552"/></g><g id="n40-11"><use href="#cL" x="604"/></g></g>
<g id="r41" transform="translate(0,2142)"><g id="n41-1"><use href="#cR" x="84"/></g><g id="n41-2"><use href="#cR" x="136"/></g><g id="n41-3"><use href="#pR" x="188"/></g><g id="n41-4"><use href="#cR" x="240"/></g><g id="n41-5"><use href="#gR" x="292"/></g><g id="n41-6"><use href="#cR" x="344"/></g><g id="n41-7"><use href="#cR" x="396"/></g><g id="n41-8"><use href="#cR" x="448"/></g><g id="n41-9"><use href="#pR" x="500"/></g><g id="n41-10"><use href="#cR" x="552"/></g><g id="n41-11"><use href="#cR" x="604"/></g></g>
<g id="r42" transform="translate(0,2194)"><g id="n42-1"><use href="#cL" x="84"/></g><g id="n42-2"><use href="#cL" x="136"/></g><g id="n42-3"><use href="#pL" x="188"/></g><g id="n42-4"><use href="#cL" x="240"/></g><g id="n42-5"><use href="#gL" x="292"/></g><g id="n42-6"><use href="#cL" x="344"/></g><g id="n42-7"><use href="#cL" x="396"/></g><g id="n42-8"><use href="#cL" x="448"/></g><g id="n42-9"><use href="#pL" x="500"/></g><g id="n42-10"><use href="#cL" x="552"/></g><g id="n42-11"><use href="#cL" x="604"/></g></g>
<g id="r43" transform="translate(0,2246)"><g id="n43-1"><use href="#cR" x="84"/></g><g id="n43-2"><use href="#cR" x="136"/></g><g id="n43-3"><use href="#pR" x="188"/></g><g id="n43-4"><use href="#cR" x="240"/></g><g id="n43-5"><use href="#gR" x="292"/></g><g id="n43-6"><use href="#cR" x="344"/></g><g id="n43-7"><use href="#cR" x="396"/></g><g id="n43-8"><use href="#cR" x="448"/></g><g id="n43-9"><use href="#pR" x="500"/></g><g id="n43-10"><use href="#cR" x="552"/></g><g id="n43-11"><use href="#cR" x="604"/></g></g>
<g id="r44" transform="translate(0,2298)"><g id="n44-1"><use href="#cL" x="84"/></g><g id="n44-2"><use href="#cL" x="136"/></g><g id="n44-3"><use href="#pL" x="188"/></g><g id="n44-4"><use href="#cL" x="240"/></g><g id="n44-5"><use href="#gL" x="292"/></g><g id="n44-6"><use href="#cL" x="344"/></g><g id="n44-7"><use href="#cL" x="396"/></g><g id="n44-8"><use href="#cL" x="448"/></g><g id="n44-9"><use href="#pL" x="500"/></g><g id="n44-10"><use href="#cL" x="552"/></g><g id="n44-11"><use href="#cL" x="604"/></g></g>
<g id="r45" transform="translate(0,2350)"><g id="n45-1"><use href="#cR" x="84"/></g><g id="n45-2"><use href="#cR" x="136"/></g><g id="n45-3"><use href="#pR" x="188"/></g><g id="n45-4"><use href="#cR" x="240"/></g><g id="n45-5"><use href="#gR" x="292"/></g><g id="n45-6"><use href="#cR" x="344"/></g><g id="n45-7"><use href="#cR" x="396"/></g><g id="n45-8"><use href="#cR" x="448"/></g><g id="n45-9"><use href="#pR" x="500"/></g><g id="n45-10"><use href="#cR" x="552"/></g><g id="n45-11"><use href="#cR" x="604"/></g></g>
<g id="r46" transform="translate(0,2402)"><g id="n46-1"><use href="#cL" x="84"/></g><g id="n46-2"><use href="#cL" x="136"/></g><g id="n46-3"><use href="#pL" x="188"/></g><g id="n46-4"><use href="#cL" x="240"/></g><g id="n46-5"><use href="#gL" x="292"/></g><g id="n46-6"><use href="#cL" x="344"/></g><g id="n46-7"><use href="#cL" x="396"/></g><g id="n46-8"><use href="#cL" x="448"/></g><g id="n46-9"><use href="#pL" x="500"/></g><g id="n46-10"><use href="#cL" x="552"/></g><g id="n46-11"><use href="#cL" x="604"/></g></g>
<g id="r47" transform="translate(0,2454)"><g id="n47-1"><use href="#cR" x="84"/></g><g id="n47-2"><use href="#cR" x="136"/></g><g id="n47-3"><use href="#pR" x="188"/></g><g id="n47-4"><use href="#cR" x="240"/></g><g id="n47-5"><use href="#gR" x="292"/></g><g id="n47-6"><use href="#cR" x="344"/></g><g id="n47-7"><use href="#cR" x="396"/></g><g id="n47-8"><use href="#cR" x="448"/></g><g id="n47-9"><use href="#pR" x="500"/></g><g id="n47-10"><use href="#cR" x="552"/></g><g id="n47-11"><use href="#cR" x="604"/></g></g>
<g id="r48" transform="translate(0,2506)"><g id="n48-1"><use href="#cL" x="84"/></g><g id="n48-2"><use href="#cL" x="136"/></g><g id="n48-3"><use href="#pL" x="188"/></g><g id="n48-4"><use href="#cL" x="240"/></g><g id="n48-5"><use href="#gL" x="292"/></g><g id="n48-6"><use href="#cL" x="344"/></g><g id="n48-7"><use href="#cL" x="396"/></g><g id="n48-8"><use href="#cL" x="448"/></g><g id="n48-9"><use href="#pL" x="500"/></g><g id="n48-10"><use href="#cL" x="552"/></g><g id="n48-11"><use href="#cL" x="604"/></g></g>
<g id="r49" transform="translate(0,2558)"><g id="n49-1"><use href="#cR" x="84"/></g><g id="n49-2"><use href="#cR" x="136"/></g><g id="n49-3"><use href="#pR" x="188"/></g><g id="n49-4"><use href="#cR" x="240"/></g><g id="n49-5"><use href="#cR" x="292"/></g><g id="n49-6"><use href="#cR" x="344"/></g><g id="n49-7"><use href="#cR" x="396"/></g><g id="n49-8"><use href="#cR" x="448"/></g><g id="n49-9"><use href="#pR" x="500"/></g><g id="n49-10"><use href="#cR" x="552"/></g><g id="n49-11"><use href="#cR" x="604"/></g></g>
<g id="r50" transform="translate(0,2610)"><g id="n50-1"><use href="#cL" x="84"/></g><g id="n50-2"><use href="#cL" x="136"/></g><g id="n50-3"><use href="#pL" x="188"/></g><g id="n50-4"><use href="#cL" x="240"/></g><g id="n50-5"><use href="#cL" x="292"/></g><g id="n50-6"><use href="#cL" x="344"/></g><g id="n50-7"><use href="#cL" x="396"/></g><g id="n50-8"><use href="#cL" x="448"/></g><g id="n50-9"><use href="#pL" x="500"/></g><g id="n50-10"><use href="#cL" x="552"/></g><g id="n50-11"><use href="#cL" x="604"/></g></g>
<g id="r51" transform="translate(0,2662)"><g id="n51-1"><use href="#cR" x="84"/></g><g id="n51-2"><use href="#cR" x="136"/></g><g id="n51-3"><use href="#cR" x="188"/></g><g id="n51-4"><use href="#pR" x="240"/></g><g id="n51-5"><use href="#pR" x="292"/></g><g id="n51-6"><use href="#pR" x="344"/></g><g id="n51-7"><use href="#pR" x="396"/></g><g id="n51-8"><use href="#pR" x="448"/></g><g id="n51-9"><use href="#cR" x="500"/></g><g id="n51-10"><use href="#cR" x="552"/></g><g id="n51-11"><use href="#cR" x="604"/></g></g>
<g id="r52" transform="translate(0,2714)"><g id="n52-1"><use href="#cL" x="84"/></g><g id="n52-2"><use href="#cL" x="136"/></g><g id="n52-3"><use href="#cL" x="188"/></g><g id="n52-4"><use href="#cL" x="240"/></g><g id="n52-5"><use href="#cL" x="292"/></g><g id="n52-6"><use href="#cL" x="344"/></g><g id="n52-7"><use href="#cL" x="396"/></g><g id="n52-8"><use href="#cL" x="448"/></g><g id="n52-9"><use href="#cL" x="500"/></g><g id="n52-10"><use href="#cL" x="552"/></g><g id="n52-11"><use href="#cL" x="604"/></g></g>
<g id="r53" transform="translate(0,2766)"><g id="n53-1"><use href="#cR" x="84"/></g><g id="n53-2"><use href="#cR" x="136"/></g><g id="n53-3"><use href="#cR" x="188"/></g><g id="n53-4"><use href="#cR" x="240"/></g><g id="n53-5"><use href="#cR" x="292"/></g><g id="n53-6"><use href="#cR" x="344"/></g><g id="n53-7"><use href="#cR" x="396"/></g><g id="n53-8"><use href="#cR" x="448"/></g><g id="n53-9"><use href="#cR" x="500"/></g><g id="n53-10"><use href="#cR" x="552"/></g><g id="n53-11"><use href="#cR" x="604"/></g></g>
<g id="r54" transform="translate(0,2818)"><g id="n54-1"><use href="#cL" x="84"/></g><g id="n54-2"><use href="#cL" x="136"/></g><g id="n54-3"><use href="#cL" x="188"/></g><g id="n54-4"><use href="#cL" x="240"/></g><g id="n54-5"><use href="#cL" x="292"/></g><g id="n54-6"><use href="#cL" x="344"/></g><g id="n54-7"><use href="#cL" x="396"/></g><g id="n54-8"><use href="#cL" x="448"/></g><g id="n54-9"><use href="#cL" x="500"/></g><g id="n54-10"><use href="#cL" x="552"/></g><g id="n54-11"><use href="#cL" x="604"/></g></g>
<g id="r55" transform="translate(0,2870)"><g id="n55-1"><use href="#cR" x="84"/></g><g id="n55-2"><use href="#cR" x="136"/></g><g id="n55-3"><use href="#cR" x="188"/></g><g id="n55-4"><use href="#cR" x="240"/></g><g id="n55-5"><use href="#cR" x="292"/></g><g id="n55-6"><use href="#cR" x="344"/></g><g id="n55-7"><use href="#cR" x="396"/></g><g id="n55-8"><use href="#cR" x="448"/></g><g id="n55-9"><use href="#cR" x="500"/></g><g id="n55-10"><use href="#cR" x="552"/></g><g id="n55-11"><use href="#cR" x="604"/></g></g>
<g id="r56" transform="translate(0,2922)"><g id="n56-1"><use href="#cL" x="84"/></g><g id="n56-2"><use href="#cL" x="136"/></g><g id="n56-3"><use href="#cL" x="188"/></g><g id="n56-4"><use href="#cL" x="240"/></g><g id="n56-5"><use href="#cL" x="292"/></g><g id="n56-6"><use href="#cL" x="344"/></g><g id="n56-7"><use href="#cL" x="396"/></g><g id="n56-8"><use href="#cL" x="448"/></g><g id="n56-9"><use href="#cL" x="500"/></g><g id="n56-10"><use href="#cL" x="552"/></g><g id="n56-11"><use href="#cL" x="604"/></g></g>
<g id="r57" transform="translate(0,2974)"><g id="n57-1"><use href="#cR" x="84"/></g><g id="n57-2"><use href="#cR" x="136"/></g><g id="n57-3"><use href="#cR" x="188"/></g><g id="n57-4"><use href="#cR" x="240"/></g><g id="n57-5"><use href="#cR" x="292"/></g><g id="n57-6"><use href="#cR" x="344"/></g><g id="n57-7"><use href="#cR" x="396"/></g><g id="n57-8"><use href="#cR" x="448"/></g><g id="n57-9"><use href="#cR" x="500"/></g><g id="n57-10"><use href="#cR" x="552"/></g><g id="n57-11"><use href="#cR" x="604"/></g></g>
<g id="r58" transform="translate(0,3026)"><g id="n58-1"><use href="#cL" x="84"/></g><g id="n58-2"><use href="#cL" x="136"/></g><g id="n58-3"><use href="#cL" x="188"/></g><g id="n58-4"><use href="#cL" x="240"/></g><g id="n58-5"><use href="#cL" x="292"/></g><g id="n58-6"><use href="#cL" x="344"/></g><g id="n58-7"><use href="#cL" x="396"/></g><g id="n58-8"><use href="#cL" x="448"/></g><g id="n58-9"><use href="#cL" x="500"/></g><g id="n58-10"><use href="#cL" x="552"/></g><g id="n58-11"><use href="#cL" x="604"/></g></g>
<g id="r59" transform="translate(0,3078)"><g id="n59-1"><use href="#cR" x="84"/></g><g id="n59-2"><use href="#cR" x="136"/></g><g id="n59-3"><use href="#cR" x="188"/></g><g id="n59-4"><use href="#cR" x="240"/></g><g id="n59-5"><use href="#cR" x="292"/></g><g id="n59-6"><use href="#cR" x="344"/></g><g id="n59-7"><use href="#cR" x="396"/></g><g id="n59-8"><use href="#cR" x="448"/></g><g id="n59-9"><use href="#cR" x="500"/></g><g id="n59-10"><use href="#cR" x="552"/></g><g id="n59-11"><use href="#cR" x="604"/></g></g>
<g id="r60" transform="translate(0,3130)"><g id="n60-1"><use href="#cL" x="84"/></g><g id="n60-2"><use href="#cL" x="136"/></g><g id="n60-3"><use href="#cL" x="188"/></g><g id="n60-4"><use href="#cL" x="240"/></g><g id="n60-5"><use href="#cL" x="292"/></g><g id="n60-6"><use href="#cL" x="344"/></g><g id="n60-7"><use href="#cL" x="396"/></g><g id="n60-8"><use href="#cL" x="448"/></g><g id="n60-9"><use href="#cL" x="500"/></g><g id="n60-10"><use href="#cL" x="552"/></g><g id="n60-11"><use href="#cL" x="604"/></g></g>
<g id="r61" transform="translate(0,3182)"><g id="n61-1"><use href="#cR" x="84"/></g><g id="n61-2"><use href="#cR" x="136"/></g><g id="n61-3"><use href="#cR" x="188"/></g><g id="n61-4"><use href="#cR" x="240"/></g><g id="n61-5"><use href="#cR" x="292"/></g><g id="n61-6"><use href="#cR" x="344"/></g><g id="n61-7"><use href="#cR" x="396"/></g><g id="n61-8"><use href="#cR" x="448"/></g><g id="n61-9"><use href="#cR" x="500"/></g><g id="n61-10"><use href="#cR" x="552"/></g><g id="n61-11"><use href="#cR" x="604"/></g></g>
<g id="r62" transform="translate(0,3234)"><g id="n62-1"><use href="#cL" x="84"/></g><g id="n62-2"><use href="#cL" x="136"/></g><g id="n62-3"><use href="#cL" x="188"/></g><g id="n62-4"><use href="#cL" x="240"/></g><g id="n62-5"><use href="#cL" x="292"/></g><g id="n62-6"><use href="#cL" x="344"/></g><g id="n62-7"><use href="#cL" x="396"/></g><g id="n62-8"><use href="#cL" x="448"/></g><g id="n62-9"><use href="#cL" x="500"/></g><g id="n62-10"><use href="#cL" x="552"/></g><g id="n62-11"><use href="#cL" x="604"/></g></g>
<g id="r63" transform="translate(0,3286)"><g id="n63-1"><use href="#cR" x="84"/></g><g id="n63-2"><use href="#cR" x="136"/></g><g id="n63-3"><use href="#cR" x="188"/></g><g id="n63-4"><use href="#cR" x="240"/></g><g id="n63-5"><use href="#cR" x="292"/></g><g id="n63-6"><use href="#cR" x="344"/></g><g id="n63-7"><use href="#cR" x="396"/></g><g id="n63-8"><use href="#cR" x="448"/></g><g id="n63-9"><use href="#cR" x="500"/></g><g id="n63-10"><use href="#cR" x="552"/></g><g id="n63-11"><use href="#cR" x="604"/></g></g>
</g>
<text id="watermark" x="344" y="1705" text-anchor="middle" font-weight="bold" font-size="15.5" textLength="155" lengthAdjust="spacingAndGlyphs" fill="#444" stroke="#fff" stroke-opacity="0.85" stroke-width="2.5" paint-order="stroke">BRACELETBOOK.COM</text>
</svg>
